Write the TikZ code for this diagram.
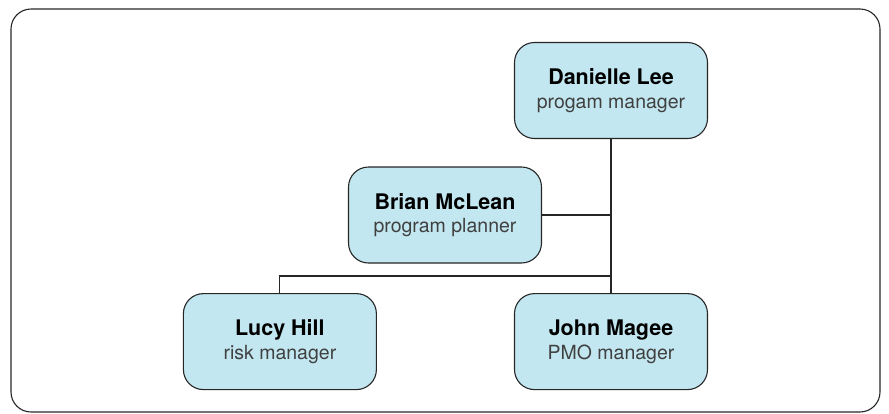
\documentclass[tikz,border=0pt]{standalone}
\usepackage{fontspec}
\setmainfont{TeX Gyre Heros}
\usepackage{xcolor}
\usepackage{tikz}
\usetikzlibrary{positioning}
\definecolor{boxblue}{RGB}{194,231,240}
\tikzset{
  person/.style={draw=black!85, line width=1.1pt, rounded corners=20pt, fill=boxblue,
                 align=center, minimum width=193pt, minimum height=96pt, inner sep=0pt,
                 font=\fontsize{19.5}{23.5}\selectfont},
  link/.style={draw=black!85, line width=1.1pt},
  frame/.style={draw=black!85, line width=1.1pt, rounded corners=20pt}
}
\newcommand{\orgentry}[2]{{\fontsize{21.5}{23.5}\selectfont\bfseries #1}\\{\color{black!75}#2}}

\begin{document}
\begin{tikzpicture}[x=1pt, y=-1pt, node distance=154pt and 137pt]

\useasboundingbox (0,0) rectangle (889,413);
\draw[frame] (11,9) rectangle (880,412);

% Top of the chart
\node[person] (danielle) at (611,90.5) {\orgentry{Danielle Lee}{progam manager}};
\node[person] (brian) at (445,215) {\orgentry{Brian McLean}{program planner}};

% Bottom row
\node[person, below=of danielle] (john) {\orgentry{John Magee}{PMO manager}};
\node[person, left=of john] (lucy) {\orgentry{Lucy Hill}{risk manager}};

% Connectors
\coordinate (split) at (danielle.south |- 0,276);
\draw[link] (danielle) -- (john);
\draw[link] (brian.east) -- (brian.east -| danielle.south);
\draw[link] (split) -| (lucy.north);

\end{tikzpicture}
\end{document}
